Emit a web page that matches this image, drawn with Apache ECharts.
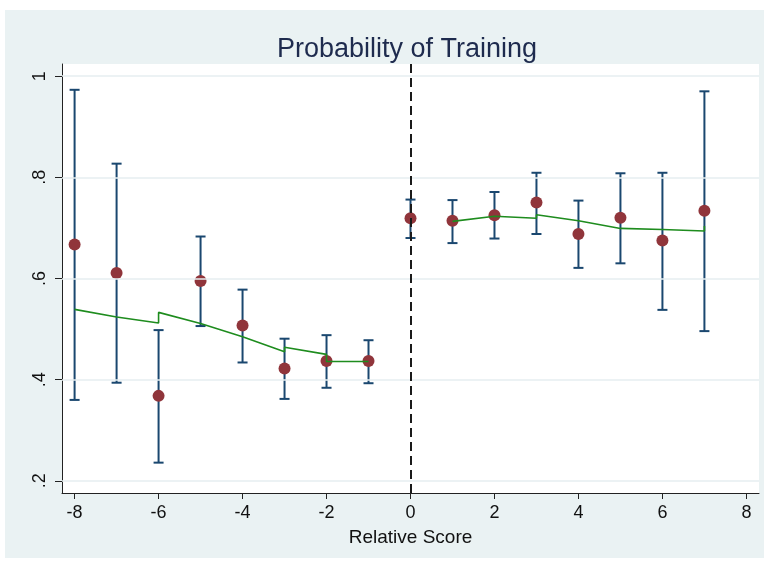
<!DOCTYPE html>
<html>
<head>
<meta charset="utf-8">
<script src="https://cdn.jsdelivr.net/npm/echarts@6/dist/echarts.min.js"></script>
<style>
  html, body { margin: 0; padding: 0; background: #ffffff; }
  #chart { width: 767px; height: 565px; }
</style>
</head>
<body>
<div id="chart"></div>
<script>
// ---- data ----
const relativeScore = [-8, -7, -6, -5, -4, -3, -2, -1, 0, 1, 2, 3, 4, 5, 6, 7];
const meanProb      = [0.667, 0.611, 0.368, 0.595, 0.507, 0.422, 0.437, 0.437, 0.719, 0.714, 0.725, 0.750, 0.688, 0.720, 0.675, 0.734];
const ciHigh        = [0.973, 0.827, 0.498, 0.683, 0.578, 0.481, 0.488, 0.478, 0.756, 0.755, 0.771, 0.809, 0.754, 0.808, 0.809, 0.970];
const ciLow         = [0.360, 0.394, 0.236, 0.506, 0.434, 0.362, 0.384, 0.393, 0.680, 0.670, 0.679, 0.688, 0.621, 0.630, 0.538, 0.496];

const fitLeftX  = [-8, -7, -6, -6, -5, -4, -3, -3, -2, -2, -1];
const fitLeftY  = [0.539, 0.524, 0.512, 0.533, 0.511, 0.485, 0.455, 0.464, 0.450, 0.436, 0.436];
const fitRightX = [1, 2, 3, 3, 4, 5, 6, 7, 7];
const fitRightY = [0.713, 0.723, 0.719, 0.726, 0.714, 0.699, 0.697, 0.694, 0.704];

const cutoff = 0;
const xTicks = [-8, -6, -4, -2, 0, 2, 4, 6, 8];
const yTicks = [0.2, 0.4, 0.6, 0.8, 1];
const yTickLabels = ['.2', '.4', '.6', '.8', '1'];

const titleText = 'Probability of Training';
const xTitle = 'Relative Score';

// ---- build chart ----
const chart = echarts.init(document.getElementById('chart'), null, { renderer: 'canvas' });

const FONT = '"Liberation Sans", Arial, Helvetica, sans-serif';
const NAVY = '#1a476f';
const MAROON = '#90353b';
const GREEN = '#1e8c1e';
const GRID = '#e6eef1';

const errData = relativeScore.map((x, i) => [x, ciLow[i], ciHigh[i]]);
const pointData = relativeScore.map((x, i) => [x, meanProb[i]]);
const leftFit = fitLeftX.map((x, i) => [x, fitLeftY[i]]);
const rightFit = fitRightX.map((x, i) => [x, fitRightY[i]]);

const option = {
  backgroundColor: '#ffffff',
  animation: false,
  graphic: [{
    type: 'rect',
    left: 5, top: 10,
    shape: { width: 759, height: 548 },
    style: { fill: '#eaf2f3' },
    z: -10, silent: true
  }],
  title: {
    text: titleText,
    left: 402,
    textAlign: 'center',
    top: 31,
    textStyle: { fontFamily: FONT, fontSize: 27, fontWeight: 'normal', color: '#1e2b4e' }
  },
  grid: {
    left: 62, right: 8, top: 64, bottom: 72,
    show: true, backgroundColor: '#ffffff', borderWidth: 0,
    containLabel: false
  },
  xAxis: {
    type: 'value',
    min: -8.3, max: 8.3,
    name: xTitle,
    nameLocation: 'middle',
    nameGap: 35,
    nameTextStyle: { fontFamily: FONT, fontSize: 19, color: '#111' },
    axisLine: { show: true, onZero: false, lineStyle: { color: '#222', width: 1 } },
    axisTick: { show: true, length: 6, customValues: xTicks, lineStyle: { color: '#222', width: 1 } },
    axisLabel: { customValues: xTicks, margin: 11, fontFamily: FONT, fontSize: 18, color: '#111' },
    splitLine: { show: false }
  },
  yAxis: {
    type: 'value',
    min: 0.176, max: 1.024,
    axisLine: { show: true, onZero: false, lineStyle: { color: '#222', width: 1 } },
    axisTick: { show: true, length: 7, customValues: yTicks, lineStyle: { color: '#222', width: 1 } },
    axisLabel: {
      customValues: yTicks, rotate: 90, margin: 13,
      fontFamily: FONT, fontSize: 18, color: '#111',
      formatter: function (v) {
        const idx = yTicks.findIndex(t => Math.abs(t - v) < 1e-9);
        return idx >= 0 ? yTickLabels[idx] : '';
      }
    },
    splitLine: { show: false }
  },
  series: [
    {
      // gridlines + cutoff line
      type: 'line',
      data: [],
      silent: true,
      z: 1,
      markLine: {
        silent: true,
        symbol: ['none', 'none'],
        label: { show: false },
        animation: false,
        data: yTicks.map(v => ({ yAxis: v, lineStyle: { color: GRID, width: 1.5, type: 'solid' } }))
          .concat([{ xAxis: cutoff, lineStyle: { color: '#1a1a1a', width: 2, type: [9, 5] } }])
      }
    },
    {
      type: 'custom',
      name: 'CI',
      z: 3,
      data: errData,
      encode: { x: 0, y: [1, 2] },
      renderItem: function (params, api) {
        const x = api.value(0);
        const lo = api.value(1);
        const hi = api.value(2);
        const pHi = api.coord([x, hi]);
        const pLo = api.coord([x, lo]);
        const hw = 5;
        const st = { stroke: NAVY, lineWidth: 2 };
        return {
          type: 'group',
          children: [
            { type: 'line', shape: { x1: pHi[0], y1: pHi[1], x2: pLo[0], y2: pLo[1] }, style: st },
            { type: 'line', shape: { x1: pHi[0] - hw, y1: pHi[1], x2: pHi[0] + hw, y2: pHi[1] }, style: st },
            { type: 'line', shape: { x1: pLo[0] - hw, y1: pLo[1], x2: pLo[0] + hw, y2: pLo[1] }, style: st }
          ]
        };
      }
    },
    {
      type: 'scatter',
      name: 'Mean',
      z: 4,
      data: pointData,
      symbol: 'circle',
      symbolSize: 12,
      itemStyle: { color: MAROON, opacity: 1 }
    },
    {
      type: 'line',
      z: 5,
      data: leftFit,
      showSymbol: false,
      symbol: 'none',
      lineStyle: { color: GREEN, width: 1.6 }
    },
    {
      type: 'line',
      z: 5,
      data: rightFit,
      showSymbol: false,
      symbol: 'none',
      lineStyle: { color: GREEN, width: 1.6 }
    }
  ]
};

chart.setOption(option);
</script>
</body>
</html>
